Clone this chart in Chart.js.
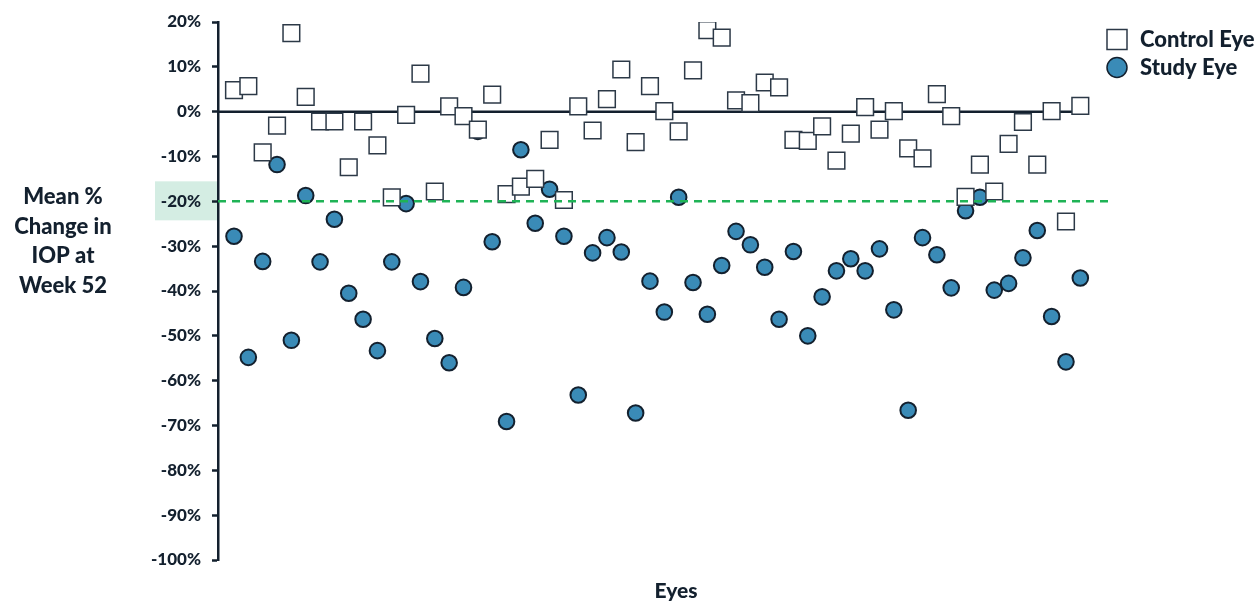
<!DOCTYPE html>
<html>
<head>
<meta charset="utf-8">
<script src="https://cdn.jsdelivr.net/npm/chart.js@4.4.1/dist/chart.umd.min.js"></script>
<style>
  html, body { margin: 0; padding: 0; background: #ffffff; }
  #wrap { position: relative; width: 1260px; height: 602px; }
</style>
</head>
<body>
<div id="wrap"><canvas id="c" width="1260" height="602"></canvas></div>
<script>
// Mean % change in IOP at week 52, one value per eye (eyes 1..60)
const controlEye = [
  4.8, 5.7, -9.1, -3.1, 17.5, 3.3, -2.2, -2.2, -12.4, -2.2,
  -7.5, -19.1, -0.7, 8.5, -17.8, 1.2, -1.0, -4.0, 3.8, -18.4,
  -16.7, -15.0, -6.3, -19.7, 1.2, -4.2, 2.8, 9.4, -6.8, 5.7,
  0.1, -4.4, 9.2, 18.2, 16.5, 2.5, 1.9, 6.5, 5.4, -6.3,
  -6.5, -3.3, -10.9, -4.9, 1.0, -4.0, 0.1, -8.2, -10.4, 3.9,
  -1.0, -19.0, -11.8, -17.8, -7.2, -2.3, -11.8, 0.1, -24.5, 1.3
];
const studyEye = [
  -27.8, -54.8, -33.4, -11.8, -51.0, -18.7, -33.5, -24.0, -40.5, -46.3,
  -53.3, -33.5, -20.5, -37.9, -50.6, -56.0, -39.2, -4.4, -29.0, -69.1,
  -8.5, -24.9, -17.3, -27.8, -63.2, -31.5, -28.1, -31.3, -67.2, -37.8,
  -44.7, -19.1, -38.1, -45.2, -34.3, -26.7, -29.7, -34.7, -46.3, -31.2,
  -50.0, -41.3, -35.5, -32.8, -35.5, -30.6, -44.2, -66.6, -28.1, -31.9,
  -39.3, -22.1, -19.1, -39.8, -38.3, -32.6, -26.5, -45.7, -55.8, -37.1
];
const yTicks = [20, 10, 0, -10, -20, -30, -40, -50, -60, -70, -80, -90, -100];
const threshold = -20;
const yTitleLines = ['Mean %', 'Change in', 'IOP at', 'Week 52'];
const xTitle = 'Eyes';
const legendLabels = ['Control Eye', 'Study Eye'];

const X_MIN = -0.115, X_MAX = 61.93;
const INK = '#13202e';
const BLUE = '#3a8bb7';
const FONT = 'Lato, "Open Sans", sans-serif';
const WEIGHT = '900';

const toPoints = arr => arr.map((v, i) => ({ x: i + 1, y: v }));

// Text, highlight and legend drawn around the plot area
const decorations = {
  id: 'decorations',
  beforeDraw(chart) {
    const ctx = chart.ctx;
    const y = chart.scales.y;
    const yT = y.getPixelForValue(threshold);
    ctx.save();
    ctx.fillStyle = '#d4ede3';
    ctx.fillRect(155, yT - 20, chart.chartArea.left - 155, 39);
    ctx.restore();
  },
  afterDraw(chart) {
    const ctx = chart.ctx;
    ctx.save();
    ctx.fillStyle = INK;
    ctx.textAlign = 'center';
    ctx.textBaseline = 'middle';
    ctx.font = WEIGHT + ' 22px ' + FONT;
    yTitleLines.forEach((t, i) => ctx.fillText(t, 63, 197 + i * 29.6));
    ctx.font = WEIGHT + ' 21px ' + FONT;
    ctx.fillText(xTitle, 676, 591);

    // legend
    ctx.lineWidth = 1.5;
    ctx.strokeStyle = '#2c3947';
    ctx.fillStyle = '#ffffff';
    ctx.fillRect(1107, 29.5, 20, 20);
    ctx.strokeRect(1107, 29.5, 20, 20);
    ctx.beginPath();
    ctx.arc(1117, 67.5, 10, 0, Math.PI * 2);
    ctx.fillStyle = BLUE;
    ctx.fill();
    ctx.strokeStyle = INK;
    ctx.lineWidth = 1.5;
    ctx.stroke();
    ctx.fillStyle = INK;
    ctx.textAlign = 'left';
    ctx.font = WEIGHT + ' 22px ' + FONT;
    ctx.fillText(legendLabels[0], 1140, 40);
    ctx.fillText(legendLabels[1], 1140, 68);
    ctx.restore();
  }
};

new Chart(document.getElementById('c'), {
  type: 'scatter',
  data: {
    datasets: [
      {
        label: 'threshold',
        type: 'line',
        data: [{ x: X_MIN, y: threshold }, { x: X_MAX, y: threshold }],
        borderColor: '#1fb356',
        borderWidth: 2.5,
        borderDash: [8, 6],
        pointRadius: 0,
        order: 1
      },
      {
        label: legendLabels[0],
        data: toPoints(controlEye),
        pointStyle: 'rect',
        pointRadius: 11.8,
        pointHoverRadius: 11.8,
        backgroundColor: '#ffffff',
        borderColor: '#2c3947',
        borderWidth: 1.5,
        order: 2
      },
      {
        label: legendLabels[1],
        data: toPoints(studyEye),
        pointStyle: 'circle',
        pointRadius: 7.8,
        pointHoverRadius: 7.8,
        backgroundColor: BLUE,
        borderColor: INK,
        borderWidth: 2,
        order: 3
      },
      {
        label: 'zero',
        type: 'line',
        data: [{ x: X_MIN, y: 0 }, { x: 60.5, y: 0 }],
        borderColor: INK,
        borderWidth: 2.5,
        pointRadius: 0,
        order: 4
      }
    ]
  },
  options: {
    responsive: false,
    animation: false,
    events: [],
    layout: { padding: { left: 0, right: 152, top: 22, bottom: 42 } },
    plugins: {
      legend: { display: false },
      tooltip: { enabled: false }
    },
    scales: {
      x: {
        type: 'linear',
        min: X_MIN,
        max: X_MAX,
        display: false
      },
      y: {
        type: 'linear',
        min: Math.min(...yTicks),
        max: Math.max(...yTicks),
        afterFit(scale) { scale.width = 218; },
        afterBuildTicks(scale) { scale.ticks = yTicks.map(v => ({ value: v })); },
        border: { display: true, color: INK, width: 2.5 },
        grid: {
          drawOnChartArea: false,
          drawTicks: true,
          tickLength: 6,
          tickWidth: 2.5,
          tickColor: INK
        },
        ticks: {
          padding: 11,
          color: INK,
          font: { family: FONT, size: 17, weight: WEIGHT },
          callback: v => v + '%'
        }
      }
    }
  },
  plugins: [decorations]
});
</script>
</body>
</html>
